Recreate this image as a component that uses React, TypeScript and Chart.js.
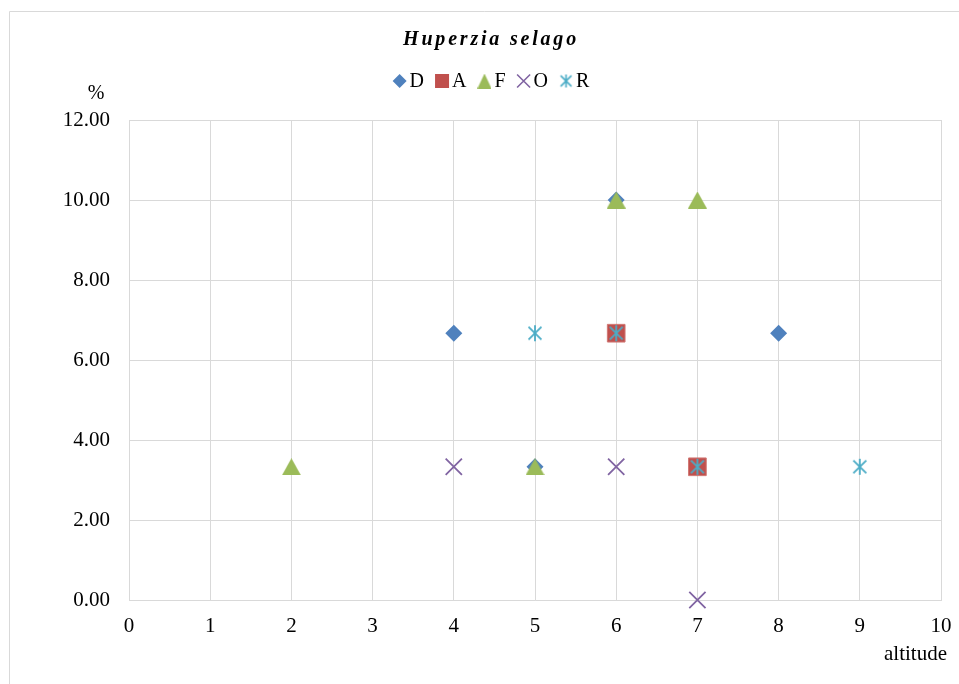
import { useEffect, useRef } from 'react';
import { Chart, registerables } from 'chart.js';

Chart.register(...registerables);

const TITLE = 'Huperzia selago';
const X_TITLE = 'altitude';
const Y_TITLE = '%';
const SERIES_NAMES = ['D', 'A', 'F', 'O', 'R'];

const D_X = [4, 5, 6, 8];
const D_Y = [6.67, 3.33, 10.0, 6.67];
const A_X = [6, 7];
const A_Y = [6.67, 3.33];
const F_X = [2, 5, 6, 7];
const F_Y = [3.33, 3.33, 10.0, 10.0];
const O_X = [4, 6, 7];
const O_Y = [3.33, 3.33, 0.0];
const R_X = [5, 6, 7, 9];
const R_Y = [6.67, 6.67, 3.33, 3.33];

const X_MIN = 0;
const X_MAX = 10;
const X_STEP = 1;
const Y_MIN = 0;
const Y_MAX = 12;
const Y_STEP = 2;

const COLORS = ['#4F81BD', '#C0504D', '#9BBB59', '#8064A2', '#4BACC6'];
const FONT = '"Liberation Serif", "Times New Roman", serif';
const GRID = '#D9D9D9';

function pts(xs: number[], ys: number[]) {
  return xs.map((x, i) => ({ x, y: ys[i] }));
}

function makeTriangle(color: string, w: number, h: number) {
  const c = document.createElement('canvas');
  c.width = w;
  c.height = h;
  const ctx = c.getContext('2d')!;
  ctx.fillStyle = color;
  ctx.beginPath();
  ctx.moveTo(w / 2, 0);
  ctx.lineTo(w, h);
  ctx.lineTo(0, h);
  ctx.closePath();
  ctx.fill();
  return c;
}

function makeStar(color: string, s: number, lw: number) {
  const c = document.createElement('canvas');
  c.width = s;
  c.height = s;
  const ctx = c.getContext('2d')!;
  ctx.strokeStyle = color;
  ctx.lineWidth = lw;
  const m = s / 2;
  const d = s * 0.36;
  ctx.beginPath();
  ctx.moveTo(m, 1);
  ctx.lineTo(m, s - 1);
  ctx.moveTo(m - d, m - d);
  ctx.lineTo(m + d, m + d);
  ctx.moveTo(m + d, m - d);
  ctx.lineTo(m - d, m + d);
  ctx.stroke();
  return c;
}

function drawLegendMarker(ctx: CanvasRenderingContext2D, i: number, cx: number, cy: number, imgs: HTMLCanvasElement[]) {
  ctx.save();
  const color = COLORS[i];
  ctx.fillStyle = color;
  ctx.strokeStyle = color;
  if (i === 0) {
    const r = 7;
    ctx.beginPath();
    ctx.moveTo(cx, cy - r);
    ctx.lineTo(cx + r, cy);
    ctx.lineTo(cx, cy + r);
    ctx.lineTo(cx - r, cy);
    ctx.closePath();
    ctx.fill();
  } else if (i === 1) {
    ctx.fillRect(cx - 7, cy - 7, 14, 14);
  } else if (i === 2) {
    ctx.drawImage(imgs[0], cx - 7, cy - 7.5, 14, 15);
  } else if (i === 3) {
    const r = 6.5;
    ctx.lineWidth = 1.6;
    ctx.beginPath();
    ctx.moveTo(cx - r, cy - r);
    ctx.lineTo(cx + r, cy + r);
    ctx.moveTo(cx + r, cy - r);
    ctx.lineTo(cx - r, cy + r);
    ctx.stroke();
  } else {
    ctx.drawImage(imgs[1], cx - 7.5, cy - 7.5, 15, 15);
  }
  ctx.restore();
}

export default function App() {
  const ref = useRef<HTMLCanvasElement | null>(null);

  useEffect(() => {
    const canvas = ref.current;
    if (!canvas) return;

    const triImg = makeTriangle(COLORS[2], 19, 17);
    const starImg = makeStar(COLORS[4], 18, 1.8);
    const legTri = makeTriangle(COLORS[2], 14, 15);
    const legStar = makeStar(COLORS[4], 15, 1.6);

    const decor = {
      id: 'decor',
      beforeDraw(chart: any) {
        const ctx = chart.ctx as CanvasRenderingContext2D;
        ctx.save();
        ctx.strokeStyle = GRID;
        ctx.lineWidth = 1;
        ctx.beginPath();
        ctx.moveTo(9.5, 684);
        ctx.lineTo(9.5, 11.5);
        ctx.lineTo(959, 11.5);
        ctx.stroke();
        ctx.restore();
      },
      afterDraw(chart: any) {
        const ctx = chart.ctx as CanvasRenderingContext2D;
        const centerX = 491;
        ctx.save();
        ctx.fillStyle = '#000';
        // title
        ctx.font = `italic bold 20px ${FONT}`;
        (ctx as any).letterSpacing = '2.8px';
        ctx.textAlign = 'center';
        ctx.textBaseline = 'alphabetic';
        ctx.fillText(TITLE, centerX, 45);
        (ctx as any).letterSpacing = '0px';

        // legend
        ctx.font = `20px ${FONT}`;
        ctx.textAlign = 'left';
        ctx.textBaseline = 'middle';
        const markerW = 14;
        const gapM = 3;
        const gapItem = 11;
        const widths = SERIES_NAMES.map((n) => ctx.measureText(n).width);
        const total =
          widths.reduce((a, w) => a + markerW + gapM + w, 0) + gapItem * (SERIES_NAMES.length - 1);
        let x = centerX - total / 2;
        const ly = 81;
        SERIES_NAMES.forEach((n, i) => {
          drawLegendMarker(ctx, i, x + markerW / 2, ly, [legTri, legStar]);
          ctx.fillStyle = '#000';
          ctx.fillText(n, x + markerW + gapM, ly + 1);
          x += markerW + gapM + widths[i] + gapItem;
        });

        // axis titles
        ctx.font = `20px ${FONT}`;
        ctx.textAlign = 'center';
        ctx.textBaseline = 'alphabetic';
        ctx.fillText(Y_TITLE, 96, 99);
        ctx.font = `21px ${FONT}`;
        ctx.textAlign = 'right';
        ctx.fillText(X_TITLE, 947, 660);
        ctx.restore();
      },
    };

    const chart = new Chart(canvas, {
      type: 'scatter',
      data: {
        datasets: [
          {
            label: SERIES_NAMES[0],
            data: pts(D_X, D_Y),
            order: 4,
            clip: false,
            pointStyle: 'rectRot',
            pointRadius: 8.5,
            backgroundColor: COLORS[0],
            borderColor: COLORS[0],
            borderWidth: 0,
          },
          {
            label: SERIES_NAMES[1],
            data: pts(A_X, A_Y),
            order: 3,
            clip: false,
            pointStyle: 'rect',
            pointRadius: 12.5,
            backgroundColor: COLORS[1],
            borderColor: '#D07874',
            borderWidth: 1,
          },
          {
            label: SERIES_NAMES[2],
            data: pts(F_X, F_Y),
            order: 2,
            clip: false,
            pointStyle: triImg as any,
            pointRadius: 9,
            backgroundColor: COLORS[2],
            borderColor: COLORS[2],
          },
          {
            label: SERIES_NAMES[3],
            data: pts(O_X, O_Y),
            order: 1,
            clip: false,
            pointStyle: 'crossRot',
            pointRadius: 11.5,
            backgroundColor: COLORS[3],
            borderColor: COLORS[3],
            borderWidth: 1.8,
          },
          {
            label: SERIES_NAMES[4],
            data: pts(R_X, R_Y),
            order: 0,
            clip: false,
            pointStyle: starImg as any,
            pointRadius: 9,
            backgroundColor: COLORS[4],
            borderColor: COLORS[4],
          },
        ],
      },
      options: {
        animation: false,
        responsive: false,
        maintainAspectRatio: false,
        layout: { padding: { top: 120, right: 18, left: 0, bottom: 0 } },
        plugins: {
          legend: { display: false },
          title: { display: false },
          tooltip: { enabled: false },
        },
        scales: {
          x: {
            type: 'linear',
            min: X_MIN,
            max: X_MAX,
            ticks: {
              stepSize: X_STEP,
              font: { family: FONT, size: 21 },
              color: '#000',
              padding: 14,
            },
            grid: { color: GRID, drawTicks: false },
            border: { color: GRID },
            afterFit: (s: any) => {
              s.height = 84;
              s.paddingLeft = 0;
              s.paddingRight = 0;
            },
          },
          y: {
            type: 'linear',
            min: Y_MIN,
            max: Y_MAX,
            ticks: {
              stepSize: Y_STEP,
              font: { family: FONT, size: 21 },
              color: '#000',
              padding: 19,
              callback: (v: any) => Number(v).toFixed(2),
            },
            grid: { color: GRID, drawTicks: false },
            border: { color: GRID },
            afterFit: (s: any) => {
              s.width = 129;
              s.paddingTop = 0;
              s.paddingBottom = 0;
            },
          },
        },
      },
      plugins: [decor],
    });

    return () => chart.destroy();
  }, []);

  return (
    <div style={{ position: 'fixed', left: 0, top: 0, width: 959, height: 684, background: '#fff' }}>
      <canvas ref={ref} width={959} height={684} style={{ width: 959, height: 684, display: 'block' }} />
    </div>
  );
}
